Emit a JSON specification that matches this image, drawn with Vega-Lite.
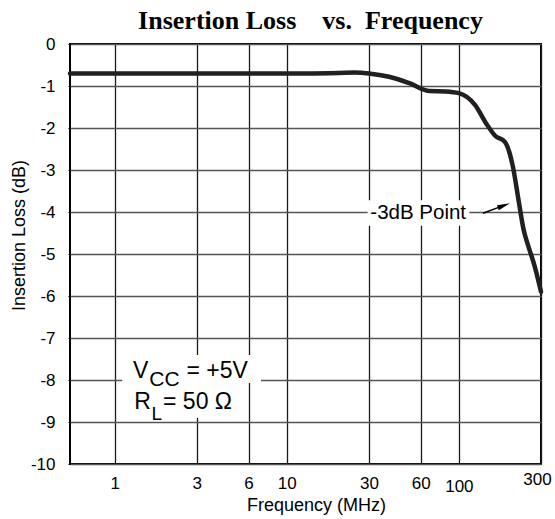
{
  "$schema": "https://vega.github.io/schema/vega-lite/v6.json",
  "width": 471,
  "height": 420,
  "autosize": "none",
  "padding": {"left": 70, "top": 44, "right": 14, "bottom": 55},
  "background": "white",
  "title": {
    "text": "Insertion Loss \u00a0\u00a0\u00a0vs. \u00a0Frequency",
    "font": "Liberation Serif",
    "fontSize": 26,
    "fontWeight": "bold",
    "color": "black",
    "anchor": "middle",
    "frame": "group",
    "baseline": "alphabetic",
    "offset": 15,
    "dx": 5,
    "dy": 35
  },
  "config": {
    "view": {"stroke": "black", "strokeWidth": 2},
    "axis": {
      "labelFont": "Liberation Sans",
      "titleFont": "Liberation Sans",
      "labelColor": "black",
      "titleColor": "black",
      "titleFontWeight": "normal",
      "domain": false,
      "tickColor": "black"
    }
  },
  "datasets": {
    "curve": [
      {"f": 0.55, "loss": -0.70},
      {"f": 2, "loss": -0.70},
      {"f": 6, "loss": -0.70},
      {"f": 12.5, "loss": -0.70},
      {"f": 20, "loss": -0.69},
      {"f": 24.8, "loss": -0.68},
      {"f": 30, "loss": -0.70},
      {"f": 39.3, "loss": -0.78},
      {"f": 52, "loss": -0.94},
      {"f": 67.5, "loss": -1.12},
      {"f": 83.5, "loss": -1.13},
      {"f": 100, "loss": -1.17},
      {"f": 124, "loss": -1.45},
      {"f": 144, "loss": -1.89},
      {"f": 163, "loss": -2.19},
      {"f": 185, "loss": -2.33},
      {"f": 206, "loss": -2.92},
      {"f": 222, "loss": -3.71},
      {"f": 238, "loss": -4.43},
      {"f": 254, "loss": -4.83},
      {"f": 276, "loss": -5.30},
      {"f": 300, "loss": -5.90}
    ],
    "boxes": [
      {"f1": 29.5, "f2": 115, "l1": -3.72, "l2": -4.33},
      {"f1": 1.106, "f2": 7.08, "l1": -7.405, "l2": -8.07},
      {"f1": 1.106, "f2": 5.13, "l1": -8.07, "l2": -8.9}
    ],
    "main": [
      {"text": "V", "f": 1.277, "loss": -7.952},
      {"text": "= +5V", "f": 2.61, "loss": -7.952},
      {"text": "R", "f": 1.299, "loss": -8.698},
      {"text": "= 50 \u03a9", "f": 1.91, "loss": -8.698}
    ],
    "subs": [
      {"text": "CC", "f": 1.59, "loss": -8.143, "size": 21},
      {"text": "L", "f": 1.637, "loss": -8.952, "size": 19}
    ],
    "point3db": [
      {"text": "-3dB Point", "f": 58, "loss": -4.03}
    ],
    "arrow": [
      {"f1": 138, "l1": -4.03, "f2": 182.8, "l2": -3.843}
    ]
  },
  "layer": [
    {
      "data": {"name": "curve"},
      "mark": {"type": "line", "color": "#231f20", "strokeWidth": 4.5, "interpolate": "monotone", "strokeCap": "round"},
      "encoding": {
        "x": {
          "field": "f", "type": "quantitative",
          "scale": {"type": "log", "domain": [0.55, 300], "nice": false},
          "axis": {
            "values": [1, 3, 6, 10, 30, 60, 100, 300],
            "title": "Frequency (MHz)",
            "titleFontSize": 18,
            "titleX": 246,
            "titleY": 46,
            "titleBaseline": "alphabetic",
            "labelFontSize": 17,
            "labelPadding": {"condition": [{"test": "datum.value == 100", "value": 14}, {"test": "datum.value == 300", "value": 7}], "value": 11},
            "labelOffset": {"condition": {"test": "datum.value == 300", "value": -4}, "value": 0},
            "ticks": false,
            "labelFlush": false,
            "labelExpr": "toString(datum.value)",
            "gridColor": "#1a1a1a",
            "gridWidth": 1.3,
            "gridOpacity": 1
          }
        },
        "y": {
          "field": "loss", "type": "quantitative",
          "scale": {"domain": [-10, 0], "nice": false},
          "axis": {
            "values": [-10, -9, -8, -7, -6, -5, -4, -3, -2, -1, 0],
            "title": "Insertion Loss (dB)",
            "titleFontSize": 18,
            "titleX": -51,
            "titleY": 191,
            "titleBaseline": "middle",
            "labelFontSize": 17,
            "labelPadding": 13,
            "labelExpr": "toString(datum.value)",
            "tickSize": 2,
            "gridColor": "#555555",
            "gridWidth": 1.3,
            "gridOpacity": 1
          }
        }
      }
    },
    {
      "data": {"name": "boxes"},
      "mark": {"type": "rect", "fill": "white", "stroke": null},
      "encoding": {
        "x": {"field": "f1", "type": "quantitative"},
        "x2": {"field": "f2"},
        "y": {"field": "l1", "type": "quantitative"},
        "y2": {"field": "l2"}
      }
    },
    {
      "data": {"name": "main"},
      "mark": {"type": "text", "font": "Liberation Sans", "fontSize": 23, "align": "left", "baseline": "alphabetic", "color": "black"},
      "encoding": {
        "x": {"field": "f", "type": "quantitative"},
        "y": {"field": "loss", "type": "quantitative"},
        "text": {"field": "text"}
      }
    },
    {
      "data": {"name": "subs"},
      "mark": {"type": "text", "font": "Liberation Sans", "align": "left", "baseline": "alphabetic", "color": "black"},
      "encoding": {
        "x": {"field": "f", "type": "quantitative"},
        "y": {"field": "loss", "type": "quantitative"},
        "text": {"field": "text"},
        "size": {"field": "size", "type": "quantitative", "scale": null}
      }
    },
    {
      "data": {"name": "point3db"},
      "mark": {"type": "text", "font": "Liberation Sans", "fontSize": 20.5, "align": "center", "baseline": "middle", "color": "black"},
      "encoding": {
        "x": {"field": "f", "type": "quantitative"},
        "y": {"field": "loss", "type": "quantitative"},
        "text": {"field": "text"}
      }
    },
    {
      "data": {"name": "arrow"},
      "mark": {"type": "rule", "color": "black", "strokeWidth": 1.4},
      "encoding": {
        "x": {"field": "f1", "type": "quantitative"},
        "x2": {"field": "f2"},
        "y": {"field": "l1", "type": "quantitative"},
        "y2": {"field": "l2"}
      }
    },
    {
      "data": {"name": "arrow"},
      "mark": {"type": "point", "shape": "M-1,-0.4L1,0L-1,0.4Z", "filled": true, "color": "black", "size": 169, "opacity": 1, "angle": -20.6},
      "encoding": {
        "x": {"field": "f2", "type": "quantitative"},
        "y": {"field": "l2", "type": "quantitative"}
      }
    }
  ]
}
